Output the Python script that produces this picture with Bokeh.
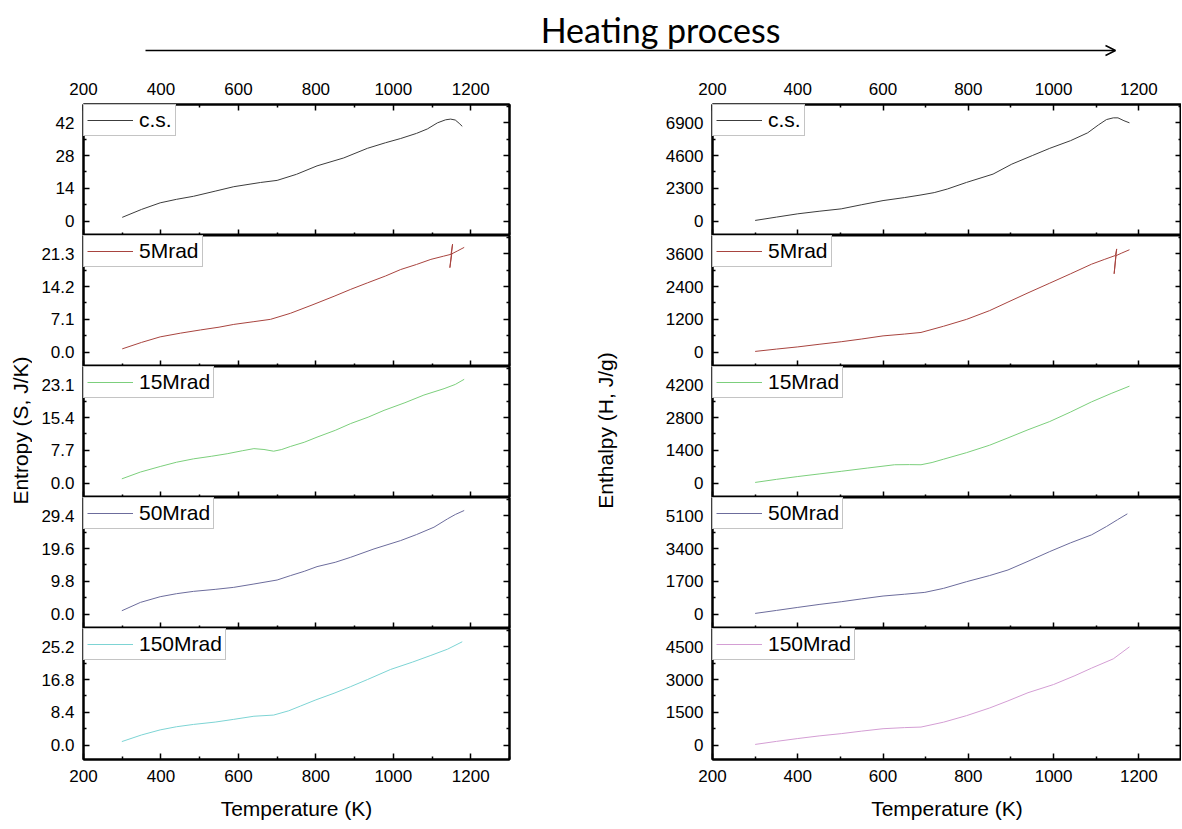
import numpy as np
from bokeh.plotting import figure
from bokeh.layouts import row, column
from bokeh.models import (Range1d, LinearAxis, FixedTicker, PrintfTickFormatter,
                          Legend, LegendItem, Label, Arrow, OpenHead)
from bokeh.embed import file_html
from bokeh.resources import INLINE

# ---------------- data ----------------
labels = ["c.s.", "5Mrad", "15Mrad", "50Mrad", "150Mrad"]
x_ticks = [200, 400, 600, 800, 1000, 1200]
x_minor = [300, 500, 700, 900, 1100, 1300]
S_steps = [14, 7.1, 7.7, 9.8, 8.4]
H_steps = [2300, 1200, 1400, 1700, 1500]
S_formats = ["%d", "%.1f", "%.1f", "%.1f", "%.1f"]

# Entropy (S, J/K)
T_S_cs = [300, 350, 398, 440, 484, 540, 588, 630, 657, 700, 750, 803, 872, 933, 980, 1019, 1060, 1088, 1114, 1135, 1148, 1160, 1170, 1178]
S_cs = [1.6, 5.0, 7.8, 9.3, 10.6, 12.8, 14.7, 15.8, 16.5, 17.4, 20.0, 23.6, 27.0, 31.1, 33.5, 35.3, 37.5, 39.4, 42.0, 43.3, 43.6, 43.2, 41.8, 40.5]
T_S_5 = [300, 350, 398, 450, 502, 550, 588, 640, 683, 734, 790, 847, 890, 933, 980, 1019, 1060, 1097, 1130, 1149, 1153, 1146, 1151, 1165, 1183]
S_5 = [0.7, 2.1, 3.3, 4.1, 4.8, 5.4, 6.0, 6.6, 7.1, 8.4, 10.2, 12.1, 13.6, 15.0, 16.5, 17.9, 19.0, 20.1, 20.8, 21.2, 23.4, 18.3, 21.3, 21.9, 22.7]
T_S_15 = [299, 347, 398, 440, 484, 530, 571, 610, 640, 666, 691, 712, 734, 770, 803, 850, 890, 935, 976, 1030, 1079, 1131, 1160, 1183]
S_15 = [1.0, 2.6, 3.9, 4.9, 5.7, 6.3, 6.9, 7.6, 8.1, 7.9, 7.5, 7.9, 8.6, 9.6, 10.8, 12.4, 14.0, 15.5, 17.1, 18.9, 20.7, 22.2, 23.2, 24.4]
T_S_50 = [299, 347, 398, 440, 484, 540, 588, 640, 700, 734, 770, 803, 850, 890, 950, 1019, 1060, 1105, 1140, 1160, 1183]
S_50 = [1.0, 3.5, 5.2, 6.1, 6.8, 7.4, 8.0, 9.0, 10.2, 11.5, 12.8, 14.2, 15.5, 17.0, 19.5, 22.0, 23.8, 26.0, 28.5, 29.8, 31.0]
T_S_150 = [299, 350, 398, 440, 484, 540, 588, 640, 691, 730, 760, 800, 847, 890, 933, 993, 1050, 1097, 1140, 1178]
S_150 = [0.9, 2.6, 3.9, 4.7, 5.3, 5.9, 6.6, 7.4, 7.7, 8.8, 10.0, 11.6, 13.3, 15.0, 16.8, 19.4, 21.3, 23.0, 24.6, 26.5]

# Enthalpy (H, J/g)
T_H_cs = [300, 350, 400, 450, 502, 550, 600, 650, 689, 720, 751, 796, 858, 902, 950, 991, 1040, 1080, 1105, 1124, 1140, 1151, 1165, 1178]
H_cs = [46, 280, 511, 690, 860, 1150, 1440, 1650, 1835, 2000, 2254, 2718, 3300, 4000, 4600, 5110, 5650, 6200, 6750, 7130, 7250, 7250, 7050, 6900]
T_H_5 = [300, 350, 400, 450, 502, 550, 600, 650, 689, 742, 796, 850, 893, 940, 991, 1040, 1089, 1120, 1145, 1148, 1142, 1146, 1160, 1178]
H_5 = [25, 110, 190, 285, 380, 480, 594, 660, 720, 947, 1200, 1520, 1832, 2170, 2526, 2870, 3221, 3400, 3540, 3780, 2870, 3530, 3630, 3750]
T_H_15 = [300, 350, 400, 450, 502, 564, 627, 662, 689, 715, 742, 796, 850, 893, 940, 991, 1040, 1089, 1135, 1178]
H_15 = [28, 160, 280, 390, 504, 644, 784, 790, 784, 880, 1022, 1302, 1620, 1932, 2280, 2632, 3040, 3472, 3830, 4144]
T_H_50 = [300, 350, 400, 450, 502, 550, 600, 650, 698, 742, 796, 850, 893, 940, 991, 1040, 1089, 1124, 1150, 1173]
H_50 = [35, 190, 347, 500, 642, 790, 937, 1030, 1128, 1336, 1683, 2000, 2290, 2740, 3245, 3700, 4112, 4546, 4900, 5204]
T_H_150 = [300, 350, 400, 450, 502, 550, 600, 650, 689, 742, 796, 850, 893, 940, 1000, 1050, 1089, 1140, 1178]
H_150 = [30, 170, 300, 420, 525, 640, 750, 800, 825, 1050, 1350, 1700, 2025, 2400, 2775, 3180, 3525, 3950, 4500]

S_series = [(T_S_cs, S_cs), (T_S_5, S_5), (T_S_15, S_15), (T_S_50, S_50), (T_S_150, S_150)]
H_series = [(T_H_cs, H_cs), (T_H_5, H_5), (T_H_15, H_15), (T_H_50, H_50), (T_H_150, H_150)]
S_colors = ["#3c3c3c", "#a8443f", "#7ccf7c", "#6c6c9c", "#7dd4d4"]
H_colors = ["#3c3c3c", "#a8443f", "#7ccf7c", "#6c6c9c", "#d49ed4"]

FONT = "Liberation Sans"
FRAME_H = 131
HEADER_H = 64
TOP_B = 40
BOT_B = 66


def style_axis(ax, show_labels):
    ax.axis_line_color = "black"
    ax.axis_line_width = 2
    ax.major_tick_in = 6
    ax.major_tick_out = 0
    ax.minor_tick_in = 3
    ax.minor_tick_out = 0
    ax.major_tick_line_color = "black"
    ax.minor_tick_line_color = "black"
    ax.major_tick_line_width = 1.5
    ax.minor_tick_line_width = 1.5
    if show_labels:
        ax.major_label_text_font = FONT
        ax.major_label_text_font_size = "17px"
        ax.major_label_text_color = "black"
        ax.major_label_standoff = 9
    else:
        ax.major_label_text_color = None
        ax.major_label_standoff = 0


def make_panel(T, Y, step, fmt, label, color, idx, side):
    if side == "L":
        width, bl, br = 487, 51, 10
    else:
        width, bl, br = 553, 84, 0
    bt = TOP_B if idx == 0 else 0
    bb = BOT_B if idx == 4 else 0
    p = figure(width=width, height=FRAME_H + bt + bb,
               x_range=Range1d(200, 1300),
               y_range=Range1d(-0.44 * step, 3.56 * step),
               output_backend="svg", toolbar_location=None,
               x_axis_location=None, y_axis_location=None,
               min_border_left=bl, min_border_right=br,
               min_border_top=bt, min_border_bottom=bb)
    p.grid.visible = False
    p.outline_line_color = "black"
    p.outline_line_width = 2
    p.background_fill_color = "white"
    p.border_fill_color = "white"

    yt = [0, step, 2 * step, 3 * step]
    ym = [0.5 * step, 1.5 * step, 2.5 * step, 3.5 * step]

    left = LinearAxis(ticker=FixedTicker(ticks=yt, minor_ticks=ym),
                      formatter=PrintfTickFormatter(format=fmt))
    style_axis(left, True)
    p.add_layout(left, "left")

    right = LinearAxis(ticker=FixedTicker(ticks=yt, minor_ticks=ym))
    style_axis(right, False)
    p.add_layout(right, "right")

    bottom = LinearAxis(ticker=FixedTicker(ticks=x_ticks, minor_ticks=x_minor))
    style_axis(bottom, idx == 4)
    if idx == 4:
        bottom.major_label_standoff = 10
        bottom.axis_label = "Temperature (K)"
        bottom.axis_label_text_font = FONT
        bottom.axis_label_text_font_size = "21px"
        bottom.axis_label_text_font_style = "normal"
        bottom.axis_label_text_color = "black"
        bottom.axis_label_standoff = 12
    p.add_layout(bottom, "below")

    if idx == 0:
        top = LinearAxis(ticker=FixedTicker(ticks=x_ticks, minor_ticks=x_minor))
        style_axis(top, True)
        top.major_label_standoff = 10
        p.add_layout(top, "above")

    r = p.line(T, Y, line_color=color, line_width=1)
    leg = Legend(items=[LegendItem(label=label, renderers=[r])],
                 location="top_left", margin=0, padding=3, spacing=0,
                 glyph_width=46, glyph_height=22, label_height=22,
                 label_standoff=6,
                 label_text_font=FONT, label_text_font_size="21px",
                 label_text_color="black",
                 border_line_color="#8a8a8a", border_line_width=1,
                 background_fill_color="white", background_fill_alpha=1)
    p.add_layout(leg)
    return p


left_panels = [make_panel(S_series[i][0], S_series[i][1], S_steps[i], S_formats[i],
                          labels[i], S_colors[i], i, "L") for i in range(5)]
right_panels = [make_panel(H_series[i][0], H_series[i][1], H_steps[i], "%d",
                           labels[i], H_colors[i], i, "R") for i in range(5)]

ROW_H = TOP_B + 5 * FRAME_H + BOT_B


def ylabel_fig(width, xc, text):
    f = figure(width=width, height=ROW_H, x_range=Range1d(0, width),
               y_range=Range1d(ROW_H, 0), output_backend="svg",
               toolbar_location=None, x_axis_location=None, y_axis_location=None,
               min_border=0, outline_line_color=None)
    f.grid.visible = False
    f.add_layout(Label(x=xc, y=366, text=text, angle=np.pi / 2,
                       text_align="center", text_baseline="middle",
                       text_font=FONT, text_font_size="21px", text_color="black"))
    return f


ylab_L = ylabel_fig(32, 20, "Entropy (S, J/K)")
ylab_R = ylabel_fig(109, 86, "Enthalpy (H, J/g)")

header = figure(width=1181, height=HEADER_H, x_range=Range1d(0, 1181),
                y_range=Range1d(HEADER_H, 0), output_backend="svg",
                toolbar_location=None, x_axis_location=None, y_axis_location=None,
                min_border=0, outline_line_color=None)
header.grid.visible = False
header.add_layout(Label(x=660, y=29, text="Heating process", text_align="center",
                        text_baseline="middle", text_font="Lato",
                        text_font_size="34px", text_color="black"))
header.add_layout(Arrow(x_start=145, y_start=50, x_end=1115, y_end=50,
                        line_color="black", line_width=1.5,
                        end=OpenHead(size=10, line_color="black", line_width=1.5)))

layout = column(header,
                row(ylab_L, column(*left_panels), ylab_R, column(*right_panels)))

open("out.html", "w").write(file_html(layout, INLINE))
